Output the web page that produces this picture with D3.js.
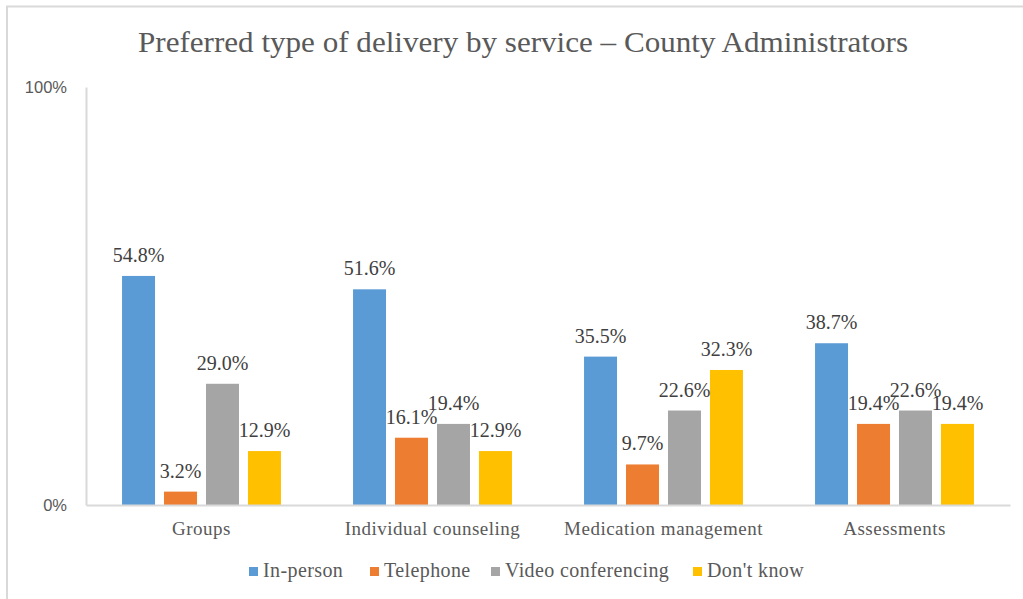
<!DOCTYPE html>
<html>
<head>
<meta charset="utf-8">
<script src="https://cdn.jsdelivr.net/npm/d3@7"></script>
<style>
  html, body { margin: 0; padding: 0; background: #fff; }
  svg { display: block; }
</style>
</head>
<body>
<svg id="chart" width="1023" height="599"></svg>
<script>
// Services (x-axis categories)
const categories = ["Groups", "Individual counseling", "Medication management", "Assessments"];
// Delivery types (legend series)
const seriesNames = ["In-person", "Telephone", "Video conferencing", "Don't know"];
const seriesColors = ["#5b9bd5", "#ed7d31", "#a5a5a5", "#ffc000"];
// Percent of county administrators, one array per delivery type
const inPerson  = [54.8, 51.6, 35.5, 38.7];
const telephone = [3.2, 16.1, 9.7, 19.4];
const video     = [29.0, 19.4, 22.6, 22.6];
const dontKnow  = [12.9, 12.9, 32.3, 19.4];
const yTicks = [0, 100];
const titleText = "Preferred type of delivery by service \u2013 County Administrators";

const values = [inPerson, telephone, video, dontKnow];

const svg = d3.select("#chart");
const W = 1023, H = 599;
const plot = { left: 86, right: 1010, top: 87, bottom: 505 };
const serif = "'Liberation Serif', 'Times New Roman', serif";
const sans = "'Liberation Sans', Arial, sans-serif";

// outer frame (top and left edges)
svg.append("path")
  .attr("d", `M7,${H} L7,6.5 L${W},6.5`)
  .attr("fill", "none").attr("stroke", "#d9d9d9").attr("stroke-width", 2);

// title
svg.append("text")
  .attr("x", 523).attr("y", 52)
  .attr("text-anchor", "middle")
  .style("font-family", serif).attr("font-size", 29)
  .attr("fill", "#595959")
  .attr("textLength", 770).attr("lengthAdjust", "spacingAndGlyphs")
  .text(titleText);

const x0 = d3.scaleBand().domain(categories)
  .range([plot.left, plot.right])
  .paddingInner(0.312).paddingOuter(0.156);
const x1 = d3.scaleBand().domain(seriesNames)
  .range([0, x0.bandwidth()])
  .paddingInner(0.214).paddingOuter(0);
const y = d3.scaleLinear().domain([0, 100]).range([plot.bottom, plot.top]);

// y axis: only 0% and 100%
const yAxis = svg.append("g")
  .attr("transform", `translate(${plot.left},0)`)
  .call(d3.axisLeft(y).tickValues(yTicks).tickSize(0).tickPadding(19).tickFormat(d => d + "%"));
yAxis.select(".domain").attr("stroke", "#d9d9d9").attr("stroke-width", 2);
yAxis.selectAll("text")
  .style("font-family", sans).attr("font-size", 16.5).attr("fill", "#595959");

// bars and value labels
const groups = svg.append("g").selectAll("g")
  .data(categories).join("g")
  .attr("transform", d => `translate(${x0(d)},0)`);

groups.each(function(cat, ci) {
  const g = d3.select(this);
  const rows = seriesNames.map((s, si) => ({ s, si, v: values[si][ci] }));
  g.selectAll("rect").data(rows).join("rect")
    .attr("x", d => x1(d.s))
    .attr("width", x1.bandwidth())
    .attr("y", d => y(d.v))
    .attr("height", d => y(0) - y(d.v))
    .attr("fill", d => seriesColors[d.si]);
  g.selectAll("text").data(rows).join("text")
    .attr("x", d => x1(d.s) + x1.bandwidth() / 2)
    .attr("y", d => y(d.v) - 14)
    .attr("text-anchor", "middle")
    .style("font-family", serif).attr("font-size", 20)
    .attr("fill", "#404040")
    .text(d => d.v.toFixed(1) + "%");
});

// x axis baseline and category labels
const xAxis = svg.append("g")
  .attr("transform", `translate(0,${plot.bottom})`)
  .call(d3.axisBottom(x0).tickSize(0));
xAxis.select(".domain").attr("stroke", "#d9d9d9").attr("stroke-width", 2);
xAxis.selectAll("text")
  .attr("y", 30).attr("dy", null)
  .style("font-family", serif).attr("font-size", 19)
  .style("letter-spacing", "0.5px")
  .attr("fill", "#595959");

// legend
const legendX = [249, 370, 491, 693];
const legend = svg.append("g").selectAll("g")
  .data(seriesNames).join("g")
  .attr("transform", (d, i) => `translate(${legendX[i]},577)`);
legend.append("rect")
  .attr("x", 0).attr("y", -10).attr("width", 9).attr("height", 9)
  .attr("fill", (d, i) => seriesColors[i]);
legend.append("text")
  .attr("x", 14).attr("y", 0)
  .style("font-family", serif).attr("font-size", 20)
  .style("letter-spacing", "0.4px")
  .attr("fill", "#595959")
  .text(d => d);
</script>
</body>
</html>
